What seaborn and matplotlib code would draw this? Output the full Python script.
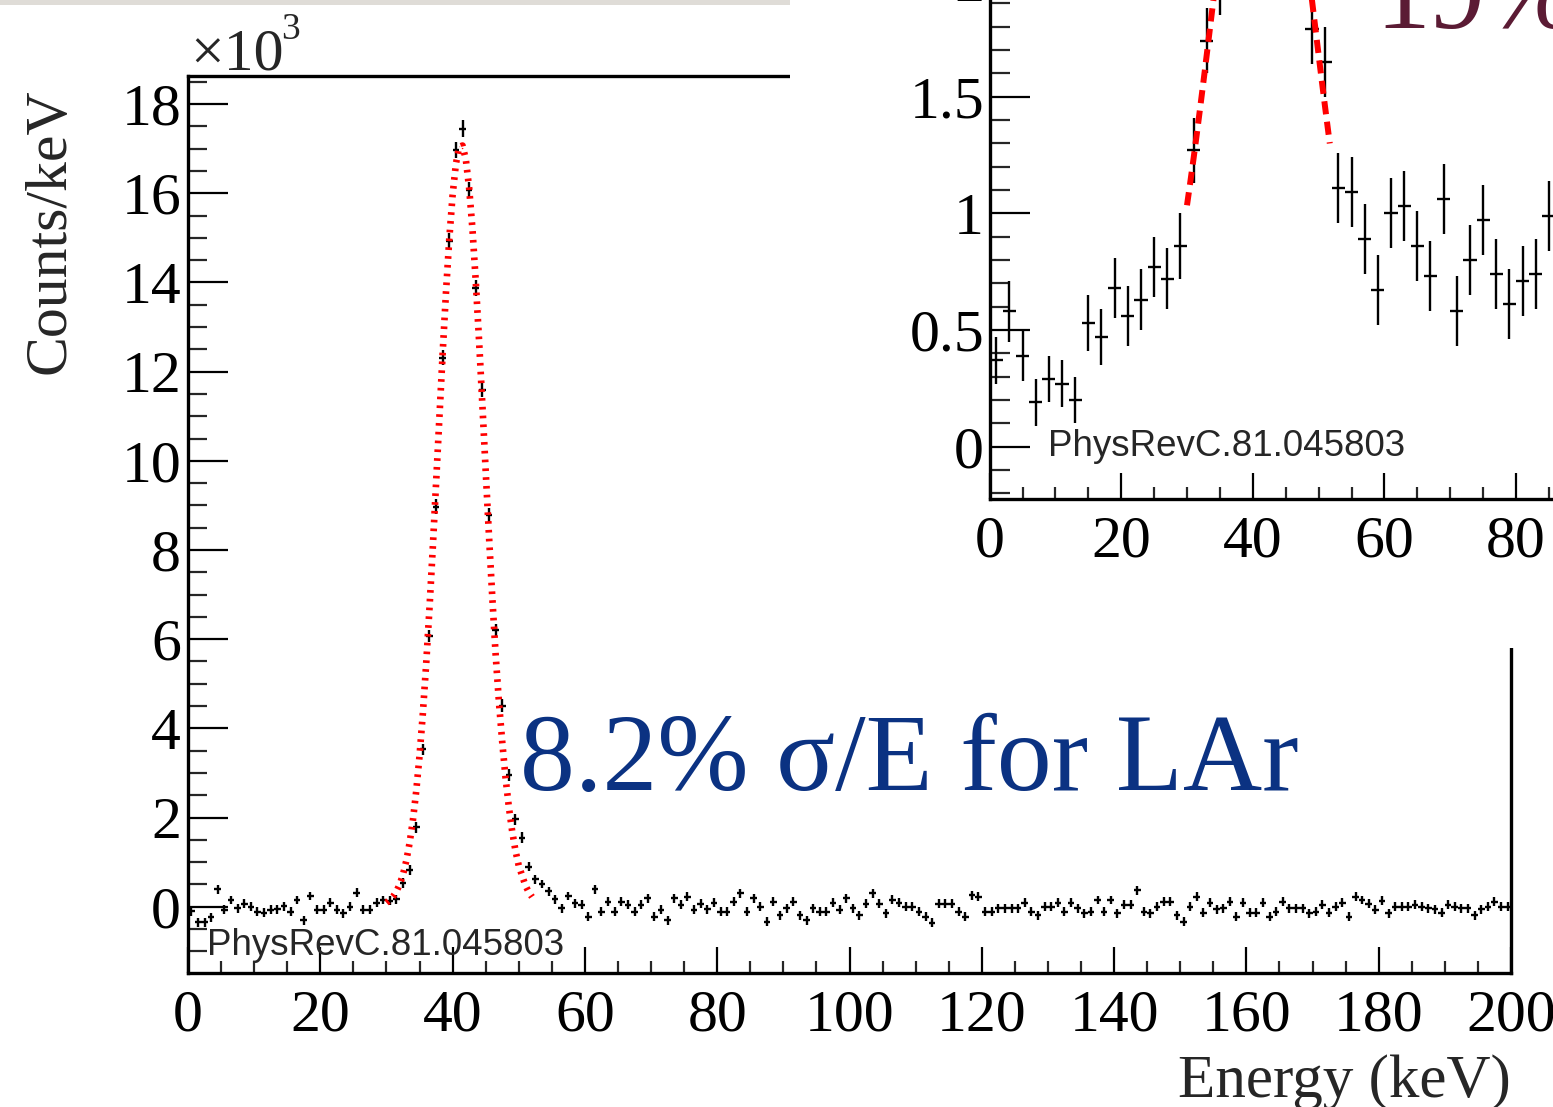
import numpy as np
import pandas as pd
import matplotlib
matplotlib.use("Agg")
import matplotlib.pyplot as plt
import seaborn as sns
from matplotlib.patches import Rectangle
from matplotlib.ticker import MultipleLocator, FixedLocator

sns.set_theme(style="white")
plt.rcParams['font.family'] = ['Liberation Serif', 'DejaVu Serif']

# ---------------- data ----------------
# main spectrum: counts/keV in units of 1e3, 1-keV bins 0..200
main_bin_lo = 0.0
main_bin_width = 1.0
main_counts = [
    -0.10, -0.35, -0.35, -0.24, 0.39, -0.07, 0.15, -0.04, 0.07, 0.00,
    -0.11, -0.13, -0.07, -0.06, 0.01, -0.11, 0.15, -0.30, 0.24, -0.07,
    -0.07, 0.09, -0.07, -0.15, 0.00, 0.31, -0.07, -0.07, 0.09, 0.15,
    0.13, 0.17, 0.54, 0.82, 1.78, 3.53, 6.07, 8.97, 12.31, 14.93,
    16.98, 17.45, 16.07, 13.87, 11.59, 8.78, 6.20, 4.51, 2.96, 1.96,
    1.55, 0.90, 0.62, 0.51, 0.35, 0.17, -0.04, 0.24, 0.08, 0.04,
    -0.22, 0.39, -0.11, 0.11, -0.11, 0.11, 0.04, -0.11, 0.04, 0.19,
    -0.22, -0.07, -0.30, 0.19, 0.04, 0.22, -0.07, 0.07, -0.06, 0.09,
    -0.11, -0.11, 0.11, 0.30, -0.11, 0.19, 0.00, -0.34, 0.11, -0.19,
    -0.04, 0.11, -0.19, -0.30, -0.04, -0.11, -0.11, 0.09, -0.07, 0.19,
    -0.04, -0.19, 0.07, 0.30, 0.07, -0.15, 0.16, 0.09, 0.00, 0.00,
    -0.11, -0.22, -0.36, 0.07, 0.07, 0.07, -0.11, -0.22, 0.26, 0.22,
    -0.11, -0.11, -0.04, -0.04, -0.04, -0.04, 0.09, -0.11, -0.19, 0.00,
    0.00, 0.09, -0.11, 0.09, -0.04, -0.15, -0.11, 0.15, -0.11, 0.15,
    -0.15, 0.04, 0.04, 0.37, -0.11, -0.15, 0.00, 0.11, 0.11, -0.19,
    -0.34, 0.00, 0.22, -0.13, 0.09, -0.06, -0.04, 0.11, -0.22, 0.09,
    -0.13, -0.13, 0.09, -0.22, -0.11, 0.11, -0.04, -0.04, -0.04, -0.15,
    -0.11, 0.04, -0.13, 0.00, 0.09, -0.22, 0.22, 0.15, 0.07, -0.07,
    0.13, -0.15, 0.00, 0.00, 0.00, 0.04, 0.00, -0.04, -0.06, -0.13,
    0.04, 0.00, -0.04, -0.04, -0.19, -0.06, 0.00, 0.11, 0.00, 0.00,
]
main_peak_err = [0.11, 0.11, 0.12, 0.13, 0.14, 0.17, 0.17, 0.18, 0.18, 0.19,
                 0.18, 0.18, 0.17, 0.16, 0.15, 0.14, 0.13, 0.12, 0.12, 0.11]
main_err = [0.10] * 32 + main_peak_err + [0.10] * 148

# Gaussian fit curve drawn on the main spectrum
fit_energy = [30.0, 30.5, 31.0, 31.5, 32.0, 32.5, 33.0, 33.5, 34.0, 34.5,
              35.0, 35.5, 36.0, 36.5, 37.0, 37.5, 38.0, 38.5, 39.0, 39.5,
              40.0, 40.5, 41.0, 41.5, 42.0, 42.5, 43.0, 43.5, 44.0, 44.5,
              45.0, 45.5, 46.0, 46.5, 47.0, 47.5, 48.0, 48.5, 49.0, 49.5,
              50.0, 50.5, 51.0, 51.5, 52.0]
fit_counts = [0.09, 0.15, 0.23, 0.34, 0.50, 0.72, 1.03, 1.43, 1.94, 2.59,
              3.38, 4.33, 5.43, 6.68, 8.04, 9.49, 10.96, 12.42, 13.78, 14.98,
              15.96, 16.66, 17.04, 17.07, 16.76, 16.12, 15.20, 14.03, 12.70, 11.26,
              9.78, 8.32, 6.94, 5.67, 4.60, 3.70, 2.90, 2.24, 1.70, 1.26,
              0.92, 0.70, 0.48, 0.33, 0.22]

# inset spectrum (2-keV bins); the peak top is outside the picture
inset_energy = [1, 3, 5, 7, 9, 11, 13, 15, 17, 19, 21, 23, 25, 27, 29, 31, 33, 35,
                49, 51, 53, 55, 57, 59, 61, 63, 65, 67, 69, 71, 73, 75, 77, 79, 81, 83, 85]
inset_counts = [0.37, 0.58, 0.39, 0.19, 0.29, 0.27, 0.20, 0.53, 0.47, 0.68, 0.56, 0.63,
                0.77, 0.72, 0.86, 1.27, 1.74, 2.00,
                1.79, 1.65, 1.11, 1.09, 0.89, 0.67, 1.00, 1.03, 0.86, 0.73, 1.06, 0.58,
                0.80, 0.97, 0.74, 0.61, 0.71, 0.74, 0.99]
inset_err = [0.10, 0.13, 0.11, 0.10, 0.10, 0.10, 0.10, 0.12, 0.12, 0.13, 0.13, 0.13,
             0.13, 0.13, 0.14, 0.14, 0.14, 0.15,
             0.15, 0.15, 0.15, 0.15, 0.15, 0.15, 0.15, 0.15, 0.15, 0.15, 0.15, 0.15,
             0.15, 0.15, 0.15, 0.15, 0.15, 0.15, 0.15]
inset_fit_left_energy = [30.0, 30.5, 31.0, 31.5, 32.0, 32.5, 33.0, 33.5, 34.0, 34.5]
inset_fit_left_counts = [1.035, 1.134, 1.236, 1.343, 1.453, 1.565, 1.680, 1.796, 1.912, 2.027]
inset_fit_right_energy = [48.5, 49.0, 49.5, 50.0, 50.5, 51.0, 51.5, 51.7]
inset_fit_right_counts = [2.027, 1.912, 1.796, 1.680, 1.565, 1.453, 1.343, 1.300]

main_xticks = [0, 20, 40, 60, 80, 100, 120, 140, 160, 180, 200]
main_yticks = [0, 2, 4, 6, 8, 10, 12, 14, 16, 18]
inset_xticks = [0, 20, 40, 60, 80]
inset_yticks = [0, 0.5, 1, 1.5, 2, 2.5, 3, 3.5]

# ---------------- figure ----------------
W, H, DPI = 1553, 1107, 100
fig = plt.figure(figsize=(W / DPI, H / DPI), dpi=DPI)
fig.patch.set_facecolor('white')


def fx(x):
    return x / W


def fy(y):
    return 1 - y / H


SERIF = ['Liberation Serif', 'DejaVu Serif']
SANS = ['Liberation Sans', 'DejaVu Sans']
TICK_FS = 43

# ---- main axes ----
ax = fig.add_axes([fx(188), fy(972.7), (1511 - 188) / W, (972.7 - 76) / H])
ax.set_zorder(0)
main_df = pd.DataFrame({
    'energy': main_bin_lo + main_bin_width * (np.arange(len(main_counts)) + 0.5),
    'counts': main_counts,
    'err': main_err,
})
ax.errorbar(main_df['energy'], main_df['counts'], xerr=main_bin_width / 2,
            yerr=main_df['err'], fmt='none', ecolor='black', elinewidth=1.7,
            capsize=0, zorder=3)
fit_df = pd.DataFrame({'energy': fit_energy, 'counts': fit_counts})
sns.lineplot(data=fit_df, x='energy', y='counts', ax=ax, color='#ff0000',
             linewidth=4.8, linestyle=(0, (0.4, 0.92)), dash_capstyle='butt',
             zorder=4)
ax.set_xlim(0, 200)
ax.set_ylim(-1.48, 18.63)
ax.set_xlabel('')
ax.set_ylabel('')
ax.xaxis.set_major_locator(FixedLocator(main_xticks))
ax.yaxis.set_major_locator(FixedLocator(main_yticks))
ax.xaxis.set_minor_locator(MultipleLocator(5))
ax.yaxis.set_minor_locator(MultipleLocator(0.5))
ax.tick_params(axis='y', which='major', direction='in', length=28.5, width=1.6,
               labelsize=TICK_FS, pad=5, left=True, right=False, colors='black')
ax.tick_params(axis='y', which='minor', direction='in', length=14, width=1.6,
               left=True, right=False)
ax.tick_params(axis='x', which='major', direction='in', length=18.5, width=1.6,
               labelsize=TICK_FS, pad=12, bottom=True, top=False, colors='black')
ax.tick_params(axis='x', which='minor', direction='in', length=9, width=1.6,
               bottom=True, top=False)
for lab in ax.get_xticklabels() + ax.get_yticklabels():
    lab.set_family(SERIF)
for s in ax.spines.values():
    s.set_color('black')
    s.set_linewidth(2.4)
ax.set_facecolor('white')

# ---- white pad of the inset and grey slide strip ----
fig.add_artist(Rectangle((fx(790), fy(648)), 1 - fx(790), 1 - fy(648),
                         transform=fig.transFigure, facecolor='white',
                         edgecolor='none', zorder=1))
fig.add_artist(Rectangle((0, fy(5)), fx(790), 1 - fy(5),
                         transform=fig.transFigure, facecolor='#dfdcd7',
                         edgecolor='none', zorder=1))

# ---- inset axes ----
ax2 = fig.add_axes([fx(989.6), fy(499.3), 658 / W, 869.2 / H])
ax2.set_zorder(2)
ax2.patch.set_alpha(0)
ax2.errorbar(inset_energy, inset_counts, xerr=1.0, yerr=inset_err, fmt='none',
             ecolor='black', elinewidth=1.7, capsize=0, zorder=3)
ifl = pd.DataFrame({'energy': inset_fit_left_energy, 'counts': inset_fit_left_counts})
ifr = pd.DataFrame({'energy': inset_fit_right_energy, 'counts': inset_fit_right_counts})
for d in (ifl, ifr):
    sns.lineplot(data=d, x='energy', y='counts', ax=ax2, color='#ff0000',
                 linewidth=4.3, linestyle=(0, (2.2, 1.25)), dash_capstyle='butt',
                 zorder=4)
ax2.set_xlim(0, 100)
ax2.set_ylim(-0.225, 3.5)
ax2.set_xlabel('')
ax2.set_ylabel('')
ax2.xaxis.set_major_locator(FixedLocator(inset_xticks))
ax2.yaxis.set_major_locator(FixedLocator(inset_yticks))
ax2.xaxis.set_minor_locator(MultipleLocator(5))
ax2.yaxis.set_minor_locator(MultipleLocator(0.1))
ax2.yaxis.set_major_formatter(plt.FuncFormatter(lambda v, p: f'{v:g}'))
ax2.tick_params(axis='y', which='major', direction='in', length=28.5, width=1.6,
                labelsize=TICK_FS, pad=4, left=True, right=False, colors='black')
ax2.tick_params(axis='y', which='minor', direction='in', length=14.5, width=1.6,
                left=True, right=False)
ax2.tick_params(axis='x', which='major', direction='in', length=18.5, width=1.6,
                labelsize=TICK_FS, pad=12, bottom=True, top=False, colors='black')
ax2.tick_params(axis='x', which='minor', direction='in', length=9, width=1.6,
                bottom=True, top=False)
for lab in ax2.get_xticklabels() + ax2.get_yticklabels():
    lab.set_family(SERIF)
for s in ax2.spines.values():
    s.set_color('black')
    s.set_linewidth(2.4)

# ---- texts ----
fig.text(fx(190), fy(70), '\u00d710', fontsize=TICK_FS, family=SERIF,
         ha='left', va='baseline', zorder=5)
fig.text(fx(281), fy(39), '3', fontsize=27, family=SERIF,
         ha='left', va='baseline', zorder=5)
fig.text(fx(50), fy(88), 'Counts/keV', fontsize=TICK_FS, family=SERIF,
         rotation=90, ha='center', va='top', zorder=5)
fig.text(fx(1511), fy(1097), 'Energy (keV)', fontsize=TICK_FS + 1, family=SERIF,
         ha='right', va='baseline', zorder=5)
fig.text(fx(207), fy(955), 'PhysRevC.81.045803', fontsize=26.5, family=SANS,
         ha='left', va='baseline', zorder=5)
fig.text(fx(1048), fy(456), 'PhysRevC.81.045803', fontsize=26.5, family=SANS,
         ha='left', va='baseline', zorder=5)
fig.text(fx(520), fy(790), '8.2% \u03c3/E for LAr', fontsize=79, family=SERIF,
         color='#0b3282', ha='left', va='baseline', zorder=5)
fig.text(fx(1375), fy(28), '19%', fontsize=79, family=SERIF,
         color='#5b1b34', ha='left', va='baseline', zorder=5)

fig.savefig('out.png', dpi=DPI)
